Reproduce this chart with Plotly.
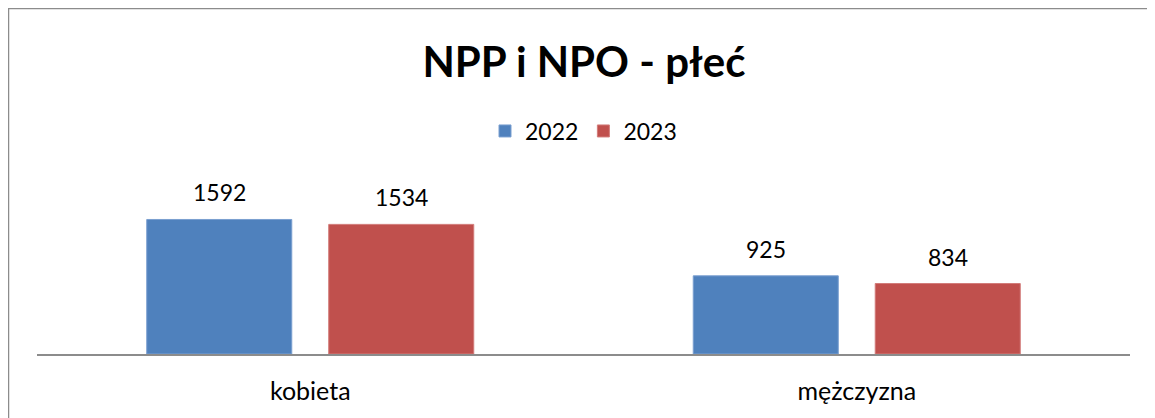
import plotly.graph_objects as go

# chart values
CATEGORIES = ["kobieta", "mężczyzna"]
YEARS = ["2022", "2023"]
VALUES_2022 = [1592, 925]
VALUES_2023 = [1534, 834]

BLUE, RED = "#4F81BD", "#C0504D"
BLUE_EDGE, RED_EDGE = "#7A9FD0", "#D27B79"
GRAY = "#8C8C8C"
FONT = "Lato"
# page has an 8px body margin, so the figure is drawn 8px in from the corner
OFF = 8
W, H = 1155 - 2 * OFF, 418 - OFF
L, T, B = 37 - OFF, 185 - OFF, 64
R = W - (1130 - OFF)

fig = go.Figure()
for year, vals, col, edge in [
    (YEARS[0], VALUES_2022, BLUE, BLUE_EDGE),
    (YEARS[1], VALUES_2023, RED, RED_EDGE),
]:
    fig.add_trace(
        go.Bar(
            x=CATEGORIES,
            y=vals,
            name=year,
            marker=dict(color=col, line=dict(color=edge, width=1)),
        )
    )

# data labels sit well above each bar, as in the original
slot_px = (W - L - R) / len(CATEGORIES) * (1 - 0.334) / 2
for i, vals in enumerate([VALUES_2022, VALUES_2023]):
    for cat, v in zip(CATEGORIES, vals):
        fig.add_annotation(
            x=cat,
            y=v,
            text=str(v),
            showarrow=False,
            xshift=(i - 0.5) * slot_px,
            yshift=27,
            yanchor="middle",
            font=dict(family=FONT, size=23, color="#000000"),
        )

# outer chart border: only its left and top edges are in view
pw, ph = W - L - R, H - T - B
bx0 = (0.5 - L) / pw
bx1 = (W + 40 - L) / pw
by0 = -(B + 40) / ph
by1 = (H - 0.5 - B) / ph
fig.add_shape(
    type="path",
    xref="paper",
    yref="paper",
    path=f"M {bx0},{by0} L {bx0},{by1} L {bx1},{by1}",
    line=dict(color=GRAY, width=1.5),
    layer="below",
)

fig.update_layout(
    width=W,
    height=H,
    barmode="group",
    bargap=0.334,
    bargroupgap=0.203,
    paper_bgcolor="white",
    plot_bgcolor="white",
    margin=dict(l=L, r=R, t=T, b=B),
    font=dict(family=FONT, size=23, color="#000000"),
    title=dict(
        text="<b>NPP i NPO - płeć</b>",
        x=(584 - OFF) / W,
        xanchor="center",
        y=1 - (62 - OFF) / H,
        yanchor="middle",
        yref="container",
        font=dict(family=FONT, size=42, color="#000000"),
    ),
    legend=dict(
        orientation="h",
        x=0.5,
        xanchor="center",
        y=1 - (131 - OFF) / H,
        yanchor="middle",
        yref="container",
        font=dict(family=FONT, size=23),
        traceorder="normal",
    ),
    showlegend=True,
)
fig.update_xaxes(
    showline=True,
    linecolor=GRAY,
    linewidth=1.5,
    showgrid=False,
    ticks="",
    ticklabelstandoff=14,
    tickfont=dict(family=FONT, size=25),
)
fig.update_yaxes(
    range=[0, 2000],
    visible=False,
    showgrid=False,
    zeroline=False,
)

fig.write_html("out.html")
